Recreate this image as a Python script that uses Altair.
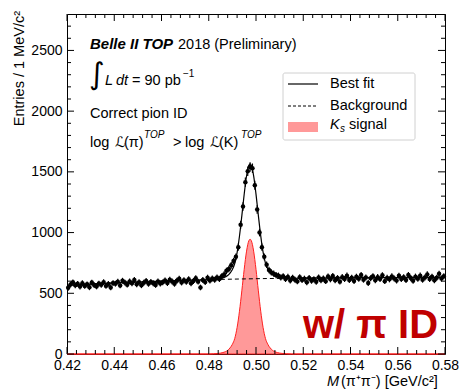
import altair as alt
import pandas as pd

FONT = "Liberation Sans"

# ---- data ----
counts = [
    545, 572, 590, 566, 578, 555, 583, 560, 574, 549, 588, 568, 556, 580, 570, 592, 561, 577, 548, 584,
    579, 596, 565, 603, 588, 571, 598, 582, 610, 574, 592, 566, 587, 601, 578, 594, 583, 569, 597, 580,
    590, 606, 584, 612, 597, 578, 603, 620, 589, 608, 594, 615, 583, 601, 623, 596, 548, 610, 592, 628,
    605, 622, 612, 630, 618, 640, 655,
    685, 700, 730, 765, 800, 880, 1065, 1215, 1415, 1505, 1540, 1530, 1390, 1190, 1000, 880, 800, 735,
    692, 672, 662, 650, 645, 630,
    640, 618, 635, 605, 628, 612, 598, 632, 610, 620, 590, 626, 603, 615, 595, 630, 608, 622, 600, 638,
    615, 642, 608, 625, 596, 633, 618, 645, 610, 628, 602, 636, 620, 650, 612, 630, 585, 624, 640, 607,
    633, 618, 648, 600, 627, 615, 639, 622, 605, 644, 618, 632, 610, 650, 625, 603, 637, 620, 645, 612,
    630, 655, 618, 636, 608, 628, 660, 622, 640,
]
mass = [round(0.4205 + 0.001 * i, 4) for i in range(len(counts))]

bkg_x = [0.42, 0.44, 0.46, 0.48, 0.50, 0.52, 0.54, 0.56, 0.58]
bkg_y = [565, 585, 600, 612, 620, 625, 628, 630, 632]

sig_x = [0.42, 0.478, 0.480, 0.482, 0.484, 0.486, 0.488, 0.489, 0.490, 0.491, 0.492, 0.493, 0.494,
         0.495, 0.496, 0.497, 0.4975, 0.498, 0.499, 0.500, 0.501, 0.502, 0.503, 0.504, 0.505, 0.506,
         0.507, 0.509, 0.511, 0.513, 0.515, 0.517, 0.58]
sig_y = [0, 0, 0, 2, 5, 12, 30, 50, 80, 128, 218, 352, 520,
         697, 847, 934, 945, 934, 847, 697, 520, 352, 218, 128, 80, 50,
         30, 12, 5, 2, 0, 0, 0]

fit_x = [0.42, 0.44, 0.46, 0.47, 0.478, 0.480, 0.482, 0.484, 0.486, 0.488, 0.489, 0.490, 0.491,
         0.492, 0.493, 0.494, 0.495, 0.496, 0.497, 0.4975, 0.498, 0.499, 0.500, 0.501, 0.502,
         0.503, 0.504, 0.505, 0.506, 0.507, 0.509, 0.511, 0.513, 0.515, 0.517, 0.52, 0.54, 0.56, 0.58]
fit_y = [565, 585, 600, 606, 611, 612, 615, 619, 627, 646, 666, 696, 745,
         835, 970, 1138, 1316, 1466, 1554, 1565, 1554, 1467, 1317, 1140, 973,
         839, 749, 701, 672, 652, 634, 628, 625, 624, 624, 625, 628, 630, 632]

x_major = [0.42, 0.44, 0.46, 0.48, 0.50, 0.52, 0.54, 0.56, 0.58]
x_minor = [0.424, 0.428, 0.432, 0.436, 0.444, 0.448, 0.452, 0.456, 0.464, 0.468, 0.472, 0.476,
           0.484, 0.488, 0.492, 0.496, 0.504, 0.508, 0.512, 0.516, 0.524, 0.528, 0.532, 0.536,
           0.544, 0.548, 0.552, 0.556, 0.564, 0.568, 0.572, 0.576]
y_major = [0, 500, 1000, 1500, 2000, 2500]
y_minor = [100, 200, 300, 400, 600, 700, 800, 900, 1100, 1200, 1300, 1400, 1600, 1700, 1800,
           1900, 2100, 2200, 2300, 2400, 2600, 2700]

W, H = 378, 340

xs = alt.Scale(domain=[0.42, 0.58], nice=False, zero=False)
ys = alt.Scale(domain=[0, 2800], nice=False)
xaxis = alt.Axis(values=x_major, format=".2f", ticks=False, domain=False, grid=False,
                 labelFont=FONT, labelFontSize=14, labelColor="black", labelPadding=4,
                 labelFlush=False, labelOverlap=False, title=None)
yaxis = alt.Axis(values=y_major, format="d", ticks=False, domain=False, grid=False,
                 labelFont=FONT, labelFontSize=14, labelColor="black", labelPadding=5,
                 labelFlush=False, labelOverlap=False, title=None)


def X(f):
    return alt.X(f, type="quantitative", scale=xs, axis=xaxis)


def Y(f):
    return alt.Y(f, type="quantitative", scale=ys, axis=yaxis)


pts = pd.DataFrame({"x": mass, "y": counts})
bkg = pd.DataFrame({"x": bkg_x, "y": bkg_y})
sig = pd.DataFrame({"x": sig_x, "y": sig_y})
fit = pd.DataFrame({"x": fit_x, "y": fit_y})

sig_area = alt.Chart(sig).mark_area(fill="#ff9999", stroke="#ff2020", strokeWidth=1,
                                    interpolate="monotone").encode(x=X("x"), y=Y("y"))
bkg_line = alt.Chart(bkg).mark_line(color="black", strokeWidth=1, strokeDash=[4, 3],
                                    interpolate="monotone").encode(x=X("x"), y=Y("y"))
fit_line = alt.Chart(fit).mark_line(color="black", strokeWidth=1.2,
                                    interpolate="monotone").encode(x=X("x"), y=Y("y"))
err = alt.Chart(pts).transform_calculate(
    lo="datum.y - sqrt(datum.y)", hi="datum.y + sqrt(datum.y)"
).mark_rule(color="black", strokeWidth=1.2).encode(x=X("x"), y=Y("lo:Q"), y2="hi:Q")
dots = alt.Chart(pts).mark_circle(color="black", size=20, opacity=1).encode(x=X("x"), y=Y("y"))


# inside ticks (ROOT style)
def yticks(vals, length):
    d = pd.DataFrame({"y": vals})
    l = alt.Chart(d).mark_rule(color="black", strokeWidth=1).encode(
        y=Y("y"), x=alt.value(0), x2=alt.value(length))
    r = alt.Chart(d).mark_rule(color="black", strokeWidth=1).encode(
        y=Y("y"), x=alt.value(W), x2=alt.value(W - length))
    return [l, r]


def xticks(vals, length):
    d = pd.DataFrame({"x": vals})
    b = alt.Chart(d).mark_rule(color="black", strokeWidth=1).encode(
        x=X("x"), y=alt.value(H), y2=alt.value(H - length))
    t = alt.Chart(d).mark_rule(color="black", strokeWidth=1).encode(
        x=X("x"), y=alt.value(0), y2=alt.value(length))
    return [b, t]


def txt(s, x, y, size=14, style="normal", weight="normal", align="left",
        baseline="alphabetic", angle=0, color="black", font=FONT):
    return alt.Chart(pd.DataFrame({"t": [s]})).mark_text(
        align=align, baseline=baseline, fontSize=size, fontStyle=style, fontWeight=weight,
        font=font, color=color, angle=angle
    ).encode(text="t:N", x=alt.value(x), y=alt.value(y))


def rule(x1, x2, y, dash=None, width=1.2):
    kw = dict(color="black", strokeWidth=width)
    if dash:
        kw["strokeDash"] = dash
    return alt.Chart(pd.DataFrame({"a": [0]})).mark_rule(**kw).encode(
        x=alt.value(x1), x2=alt.value(x2), y=alt.value(y))


legend_box = alt.Chart(pd.DataFrame({"a": [0]})).mark_rect(
    fill="white", stroke="#d0d0d0", strokeWidth=1, cornerRadius=2
).encode(x=alt.value(216), x2=alt.value(348), y=alt.value(59), y2=alt.value(126))
legend_pink = alt.Chart(pd.DataFrame({"a": [0]})).mark_rect(fill="#ff9999").encode(
    x=alt.value(221), x2=alt.value(251), y=alt.value(108), y2=alt.value(118))

texts = [
    txt("Belle II TOP", 23, 35, size=15, style="italic", weight="bold"),
    txt("2018 (Preliminary)", 111, 35, size=14.5),
    txt("∫", 22, 70, size=30, font="DejaVu Sans"),
    txt("L", 38, 71, size=14.5, style="italic"),
    txt("dt", 49, 71, size=14.5, style="italic"),
    txt("= 90 pb", 65, 71, size=14.5),
    txt("−1", 116, 63, size=10),
    txt("Correct pion ID", 23, 104, size=14.5),
    txt("log", 23, 133, size=14.5),
    txt("ℒ", 48, 133, size=14.5, font="DejaVu Sans"),
    txt("(π)", 57, 133, size=14.5),
    txt("TOP", 77, 124, size=10, style="italic"),
    txt(">", 106, 133, size=14.5),
    txt("log", 118, 133, size=14.5),
    txt("ℒ", 143, 133, size=14.5, font="DejaVu Sans"),
    txt("(K)", 152, 133, size=14.5),
    txt("TOP", 174, 124, size=10, style="italic"),
    txt("Best fit", 263, 70, size=14.5, baseline="middle"),
    txt("Background", 263, 92, size=14.5, baseline="middle"),
    txt("K", 263, 111, size=14.5, style="italic", baseline="middle"),
    txt("s", 273, 115, size=10, style="italic", baseline="middle"),
    txt("signal", 282, 111, size=14.5, baseline="middle"),
    txt("w/ π ID", 236, 324, size=40, weight="bold", color="#c00000"),
    txt("M", 260, 372, size=14.5, style="italic"),
    txt("(π⁺π⁻) [GeV/c²]", 274, 372, size=14.5),
    txt("Entries / 1 MeV/c²", -47, -3, size=14.5, align="right", baseline="middle", angle=270),
]

layers = ([sig_area, bkg_line, fit_line, err, dots]
          + yticks(y_major, 7) + yticks(y_minor, 4) + xticks(x_major, 7) + xticks(x_minor, 4)
          + [legend_box, legend_pink,
             rule(221, 251, 70), rule(221, 251, 92, dash=[3, 2], width=1)]
          + texts)

chart = alt.layer(*layers).properties(
    width=W, height=H,
    autosize=alt.AutoSizeParams(type="none"),
    padding={"left": 67, "top": 14, "right": 16, "bottom": 36},
    background="white",
).configure_view(stroke="black", strokeWidth=1)

chart.save("out.html", embed_options={"renderer": "svg", "actions": False})
